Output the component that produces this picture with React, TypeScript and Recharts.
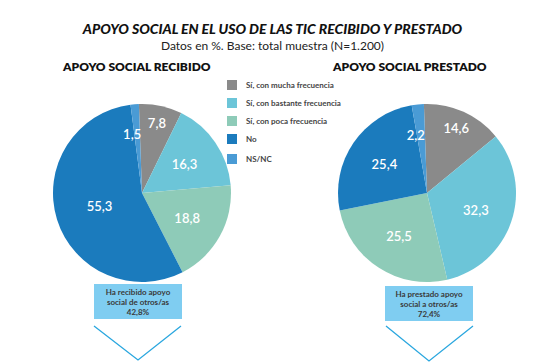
import { PieChart, Pie, Cell } from 'recharts';

const categories = [
  'Sí, con mucha frecuencia',
  'Sí, con bastante frecuencia',
  'Sí, con poca frecuencia',
  'No',
  'NS/NC',
];
const recibido = [7.8, 16.3, 18.8, 55.3, 1.5];
const prestado = [14.6, 32.3, 25.5, 25.4, 2.2];
const COLORS = ['#8a8a8a', '#6cc5d8', '#8ecbb8', '#1b7bbd', '#4a9bd5'];

const recibidoData = categories.map((name, i) => ({ name, value: recibido[i] }));
const prestadoData = categories.map((name, i) => ({ name, value: prestado[i] }));

const FONT = 'Lato, "Open Sans", sans-serif';
const RAD = Math.PI / 180;

const fmt = (v: number) => v.toFixed(1).replace('.', ',');

// tiny slices: label just left of the slice; small ones pushed outward
const SliceLabel = ({ cx, cy, midAngle, outerRadius, value }: any) => {
  const tiny = value < 5;
  const f = tiny ? 0.66 : value < 15 ? 0.8 : value > 50 ? 0.5 : 0.58;
  const r = outerRadius * f;
  const x = cx + r * Math.cos(-midAngle * RAD) + (tiny ? 4 : 0);
  const y = cy + r * Math.sin(-midAngle * RAD);
  return (
    <text x={x} y={y} fill="#fff" fontSize={13} fontWeight={600} fontFamily={FONT}
      textAnchor={tiny ? 'end' : 'middle'} dominantBaseline="central">
      {fmt(value)}
    </text>
  );
};

const Box = ({ left, top, lines }: { left: number; top: number; lines: string[] }) => (
  <div style={{
    position: 'absolute', left, top, width: 88, height: 35, background: '#7fcdf1',
    color: '#3a3a3a', fontSize: 8, fontWeight: 700, fontFamily: FONT, lineHeight: '10px',
    textAlign: 'center', display: 'flex', flexDirection: 'column', justifyContent: 'center',
  }}>
    {lines.map((l, i) => <div key={i}>{l}</div>)}
  </div>
);

export default function App() {
  return (
    <div style={{ position: 'fixed', left: 0, top: 0, width: 551, height: 362, background: '#fff', fontFamily: FONT }}>
      <div style={{ position: 'absolute', left: 0, width: 545, top: 20, textAlign: 'center', fontSize: 14, fontWeight: 900, fontStyle: 'italic', color: '#111' }}>
        APOYO SOCIAL EN EL USO DE LAS TIC RECIBIDO Y PRESTADO
      </div>
      <div style={{ position: 'absolute', left: 0, width: 545, top: 38, textAlign: 'center', fontSize: 12, color: '#222' }}>
        Datos en %. Base: total muestra (N=1.200)
      </div>
      <div style={{ position: 'absolute', left: 63, top: 59, fontSize: 12, fontWeight: 800, color: '#111' }}>
        APOYO SOCIAL RECIBIDO
      </div>
      <div style={{ position: 'absolute', left: 333, top: 59, fontSize: 12, fontWeight: 800, color: '#111' }}>
        APOYO SOCIAL PRESTADO
      </div>

      <div style={{ position: 'absolute', left: 227, top: 76 }}>
        {categories.map((c, i) => (
          <div key={c} style={{ display: 'flex', alignItems: 'center', height: 18, marginBottom: i === 3 ? 2 : 0 }}>
            <div style={{ width: 10, height: 10, background: COLORS[i], marginRight: 9 }} />
            <span style={{ fontSize: 8, fontWeight: 700, color: '#444' }}>{c}</span>
          </div>
        ))}
      </div>

      <div style={{ position: 'absolute', left: 0, top: 0 }}>
        <PieChart width={551} height={362}>
          <Pie data={recibidoData} dataKey="value" cx={137} cy={188} outerRadius={89}
            startAngle={92} endAngle={-268} stroke="none" label={SliceLabel} labelLine={false}
            isAnimationActive={false}>
            {recibidoData.map((d, i) => <Cell key={d.name} fill={COLORS[i]} />)}
          </Pie>
          <Pie data={prestadoData} dataKey="value" cx={422} cy={188} outerRadius={89}
            startAngle={92} endAngle={-268} stroke="none" label={SliceLabel} labelLine={false}
            isAnimationActive={false}>
            {prestadoData.map((d, i) => <Cell key={d.name} fill={COLORS[i]} />)}
          </Pie>
        </PieChart>
      </div>

      <Box left={94} top={284} lines={['Ha recibido apoyo', 'social de otros/as', '42,8%']} />
      <Box left={385} top={286} lines={['Ha prestado apoyo', 'social a otros/as', '72,4%']} />

      <svg width={551} height={362} style={{ position: 'absolute', left: 0, top: 0, pointerEvents: 'none' }}>
        <polyline points="94,326 138,360 181,326" fill="none" stroke="#2aa7df" strokeWidth={1.3} />
        <polyline points="386,326 429,361 473,326" fill="none" stroke="#2aa7df" strokeWidth={1.3} />
      </svg>
    </div>
  );
}
